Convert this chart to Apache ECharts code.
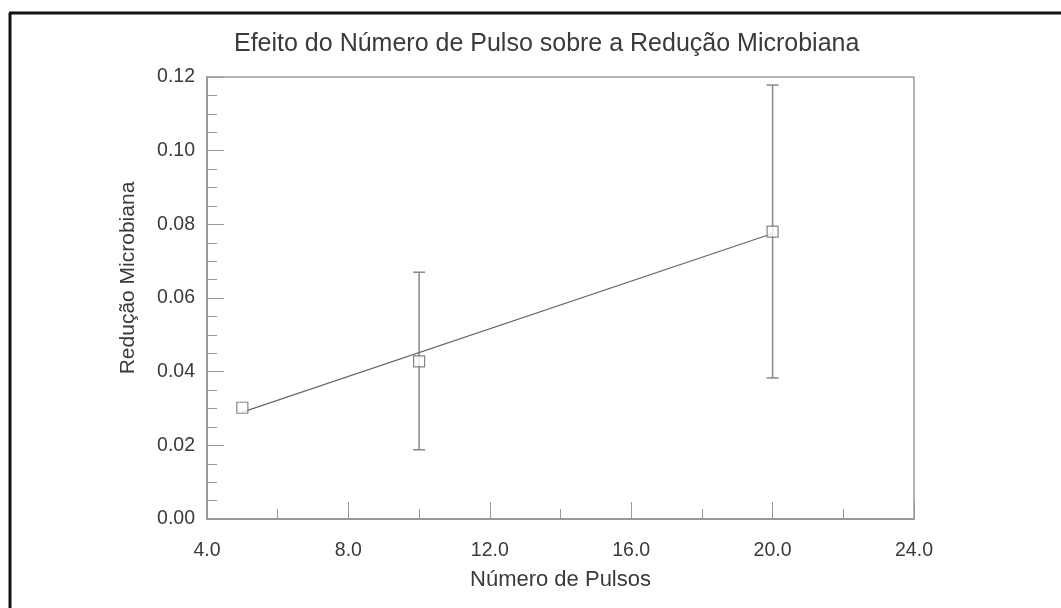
<!DOCTYPE html>
<html>
<head>
<meta charset="utf-8">
<script src="https://cdn.jsdelivr.net/npm/echarts@6/dist/echarts.min.js"></script>
<style>
  html, body { margin: 0; padding: 0; background: #fff; }
  #chart { width: 1061px; height: 608px; }
</style>
</head>
<body>
<div id="chart"></div>
<script>
// number of pulses and the mean microbial reduction with its interval
const pulses = [5, 10, 20];
const means = [0.0302, 0.0428, 0.078];
const lower = [0.0302, 0.0188, 0.0383];
const upper = [0.0302, 0.067, 0.1178];

// fitted line end points
const fitX = [5, 20];
const fitY = [0.029, 0.0775];

const font = '"Liberation Sans", Arial, sans-serif';

let chart = echarts.init(document.getElementById('chart'), null, { renderer: 'canvas' });

chart.setOption({
  animation: false,
  backgroundColor: '#fff',
  title: {
    text: 'Efeito do Número de Pulso sobre a Redução Microbiana',
    left: 229,
    top: 27,
    textStyle: { fontFamily: font, fontSize: 25, fontWeight: 'normal', color: '#3a3a3a' }
  },
  grid: {
    left: 207, right: 147, top: 77, bottom: 89,
    show: true,
    borderColor: '#666',
    borderWidth: 1,
    backgroundColor: 'transparent'
  },
  xAxis: {
    type: 'value',
    min: 4, max: 24, interval: 4,
    name: 'Número de Pulsos',
    nameLocation: 'middle',
    nameGap: 50,
    nameTextStyle: { fontFamily: font, fontSize: 22, color: '#3a3a3a' },
    axisLine: { lineStyle: { color: '#999', width: 2 } },
    axisTick: { inside: true, length: 17, lineStyle: { color: '#999' } },
    minorTick: { show: true, splitNumber: 2, length: 10, lineStyle: { color: '#999' } },
    splitLine: { show: false },
    axisLabel: {
      margin: 22,
      fontFamily: font, fontSize: 19.5, color: '#3a3a3a',
      formatter: v => v.toFixed(1)
    }
  },
  yAxis: {
    type: 'value',
    min: 0, max: 0.12, interval: 0.02,
    name: 'Redução Microbiana',
    nameLocation: 'middle',
    nameGap: 68,
    nameTextStyle: { fontFamily: font, fontSize: 21, color: '#3a3a3a', padding: [0, 0, 0, 40] },
    axisLine: { lineStyle: { color: '#999', width: 2 } },
    axisTick: { inside: true, length: 17, lineStyle: { color: '#999' } },
    minorTick: { show: true, splitNumber: 4, length: 10, lineStyle: { color: '#999' } },
    splitLine: { show: false },
    axisLabel: {
      margin: 12,
      fontFamily: font, fontSize: 19.5, color: '#3a3a3a',
      formatter: v => v.toFixed(2)
    }
  },
  series: [
    {
      // error bars
      type: 'custom',
      data: pulses.map((x, i) => [x, lower[i], upper[i]]),
      renderItem: function (params, api) {
        const x = api.value(0);
        const lo = api.coord([x, api.value(1)]);
        const hi = api.coord([x, api.value(2)]);
        if (Math.abs(lo[1] - hi[1]) < 1) return null;
        const half = 6;
        const style = { stroke: '#888', lineWidth: 1.5 };
        return {
          type: 'group',
          children: [
            { type: 'line', shape: { x1: hi[0], y1: hi[1], x2: lo[0], y2: lo[1] }, style },
            { type: 'line', shape: { x1: hi[0] - half, y1: hi[1], x2: hi[0] + half, y2: hi[1] }, style },
            { type: 'line', shape: { x1: lo[0] - half, y1: lo[1], x2: lo[0] + half, y2: lo[1] }, style }
          ]
        };
      },
      z: 2
    },
    {
      // fitted line
      type: 'line',
      data: fitX.map((x, i) => [x, fitY[i]]),
      showSymbol: false,
      lineStyle: { color: '#666', width: 1.2 },
      z: 3
    },
    {
      // means
      type: 'scatter',
      data: pulses.map((x, i) => [x, means[i]]),
      symbol: 'rect',
      symbolSize: 11,
      itemStyle: { color: '#fff', borderColor: '#666', borderWidth: 1.2 },
      z: 4
    }
  ],
  graphic: [
    // page frame around the figure
    { type: 'line', shape: { x1: 9, y1: 13, x2: 1061, y2: 13 }, style: { stroke: '#111', lineWidth: 3 } },
    { type: 'line', shape: { x1: 10, y1: 13, x2: 10, y2: 608 }, style: { stroke: '#111', lineWidth: 3 } }
  ]
});
</script>
</body>
</html>
